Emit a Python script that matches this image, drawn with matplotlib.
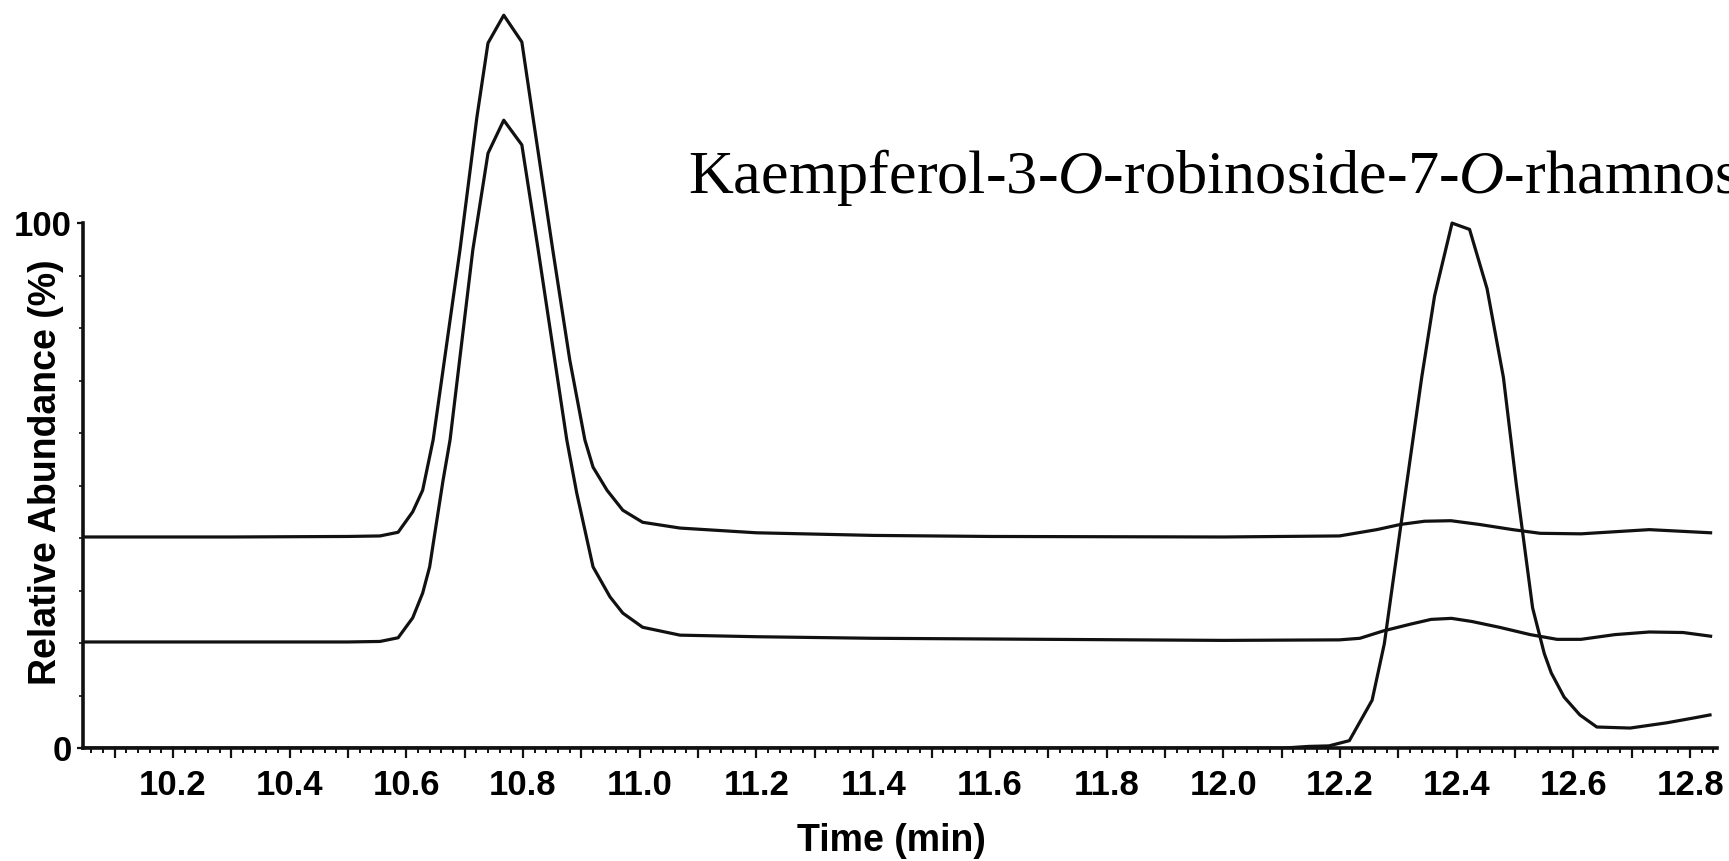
import numpy as np
import matplotlib.pyplot as plt
from matplotlib.ticker import MultipleLocator, FixedLocator, FuncFormatter

plt.rcParams['font.family'] = ['Liberation Sans', 'DejaVu Sans']
plt.rcParams['mathtext.fontset'] = 'custom'
plt.rcParams['mathtext.rm'] = 'Liberation Serif'
plt.rcParams['mathtext.it'] = 'Liberation Serif:italic'

# Upper trace (offset ~40 %)
t_a = [10.046, 10.30, 10.50, 10.555, 10.586, 10.611, 10.628, 10.646, 10.668, 10.692,
       10.721, 10.740, 10.767, 10.798, 10.817, 10.851, 10.880, 10.906, 10.920, 10.944,
       10.971, 11.005, 11.069, 11.20, 11.40, 11.60, 12.00, 12.199, 12.263, 12.304,
       12.345, 12.390, 12.438, 12.496, 12.543, 12.613, 12.671, 12.730, 12.765, 12.835]
y_a = [40.2, 40.2, 40.3, 40.4, 41.1, 45.0, 49.1, 58.7, 76.0, 94.9,
       120.2, 134.3, 139.6, 134.5, 120.2, 94.9, 74.0, 58.7, 53.5, 49.1,
       45.3, 43.0, 41.9, 41.0, 40.5, 40.3, 40.2, 40.4, 41.6, 42.6,
       43.2, 43.3, 42.6, 41.6, 40.9, 40.8, 41.2, 41.6, 41.4, 41.0]

# Middle trace (offset ~20 %)
t_b = [10.046, 10.50, 10.555, 10.586, 10.611, 10.628, 10.640, 10.649, 10.663, 10.675,
       10.714, 10.740, 10.767, 10.798, 10.826, 10.875, 10.892, 10.920, 10.949, 10.971,
       11.005, 11.069, 11.20, 11.40, 12.00, 12.199, 12.234, 12.274, 12.321, 12.356,
       12.391, 12.426, 12.473, 12.526, 12.572, 12.613, 12.671, 12.730, 12.788, 12.835]
y_b = [20.2, 20.2, 20.3, 21.0, 24.8, 29.5, 34.5, 41.0, 51.0, 58.7,
       94.9, 113.3, 119.6, 114.9, 94.9, 58.7, 48.6, 34.5, 28.8, 25.7,
       23.0, 21.5, 21.2, 20.9, 20.5, 20.6, 20.9, 22.3, 23.6, 24.5,
       24.7, 24.1, 23.0, 21.6, 20.7, 20.7, 21.6, 22.1, 22.0, 21.3]

# Bottom trace (12.4 min peak)
t_c = [10.046, 12.00, 12.105, 12.146, 12.181, 12.216, 12.255, 12.276, 12.310, 12.340,
       12.362, 12.392, 12.422, 12.452, 12.480, 12.502, 12.530, 12.550, 12.562, 12.584,
       12.611, 12.640, 12.697, 12.760, 12.805, 12.834]
y_c = [0.0, 0.0, 0.0, 0.3, 0.4, 1.4, 9.1, 19.9, 47.0, 70.6,
       86.1, 100.0, 98.8, 87.5, 70.6, 50.3, 26.7, 18.0, 14.3, 9.7,
       6.3, 4.0, 3.8, 4.8, 5.7, 6.3]

title = r"Kaempferol-3-$\mathit{O}$-robinoside-7-$\mathit{O}$-rhamnoside"

W, H = 1729, 861
fig = plt.figure(figsize=(W / 100, H / 100), dpi=100)
ax = fig.add_axes([83 / W, 113 / H, 1634 / W, 748 / H])

for t, y in [(t_a, y_a), (t_b, y_b), (t_c, y_c)]:
    ax.plot(t, y, color="#111111", lw=2.3, zorder=2)

ax.set_xlim(10.046, 12.846)
ax.set_ylim(0, 142.5)

for side in ["top", "right"]:
    ax.spines[side].set_visible(False)
ax.spines["left"].set_bounds(0, 100)
for side in ["left", "bottom"]:
    ax.spines[side].set_linewidth(2.6)
    ax.spines[side].set_color("#111111")
    ax.spines[side].set_zorder(3)

ax.xaxis.set_major_locator(MultipleLocator(0.1))
ax.xaxis.set_minor_locator(MultipleLocator(0.02))
ax.xaxis.set_major_formatter(FuncFormatter(lambda v, p: f"{v:.1f}" if round(v * 10) % 2 == 0 else ""))
ax.set_yticks([0, 100])
ax.set_yticklabels(["0", "100"])
ax.yaxis.set_minor_locator(FixedLocator(np.arange(10, 100, 10)))

ax.tick_params(axis="x", which="major", length=7, width=1.6, pad=8, labelsize=25, color="#111111")
ax.tick_params(axis="x", which="minor", length=3.5, width=1.4, color="#111111")
ax.tick_params(axis="y", which="major", length=4, width=1.6, pad=4, labelsize=25, color="#111111")
ax.tick_params(axis="y", which="minor", length=3, width=1.2, color="#111111")

for lab in ax.get_xticklabels() + ax.get_yticklabels():
    lab.set_fontweight("bold")

fig.text(46 / W, 1 - 472 / H, "Relative Abundance (%)", rotation=90, ha="center", va="center",
         fontsize=27, fontweight="bold")
fig.text(891 / W, 1 - 841 / H, "Time (min)", ha="center", va="center", fontsize=27, fontweight="bold")
# the reference cuts this label off at the right edge of the figure
fig.text(688 / W, 1 - 193 / H, title, ha="left", va="baseline", fontsize=44.8,
         family="Liberation Serif", fontweight="normal")

fig.savefig("out.png", dpi=100)
